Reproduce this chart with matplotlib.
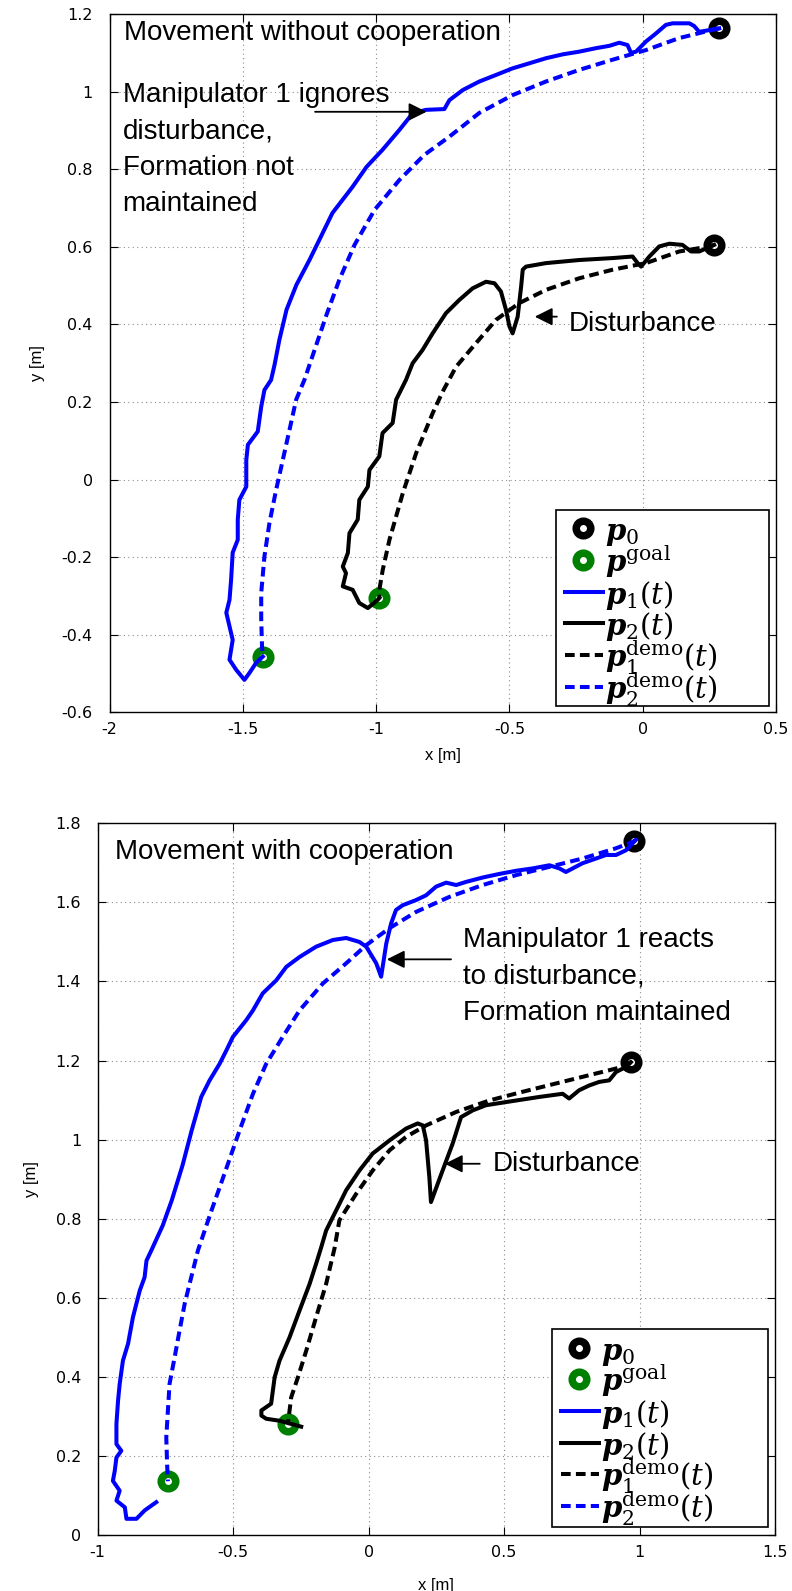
import matplotlib
matplotlib.use('Agg')
import matplotlib.pyplot as plt
from matplotlib.patches import Rectangle
from matplotlib.ticker import FuncFormatter
import numpy as np

plt.rcParams['font.family'] = ['Liberation Sans', 'DejaVu Sans']
plt.rcParams['axes.unicode_minus'] = False
plt.rcParams['mathtext.fontset'] = 'custom'
plt.rcParams['mathtext.bf'] = 'DejaVu Serif:italic:bold'
plt.rcParams['mathtext.it'] = 'DejaVu Serif:italic'
plt.rcParams['mathtext.rm'] = 'DejaVu Serif'

# ---- top panel: movement without cooperation ----
top_p1_x = [0.287, 0.212, 0.193, 0.175, 0.112, 0.087, 0.050, 0.012, -0.025, -0.044, -0.057, -0.088,
            -0.125, -0.175, -0.238, -0.300, -0.363, -0.425, -0.488, -0.550, -0.613, -0.675, -0.725,
            -0.744, -0.813, -0.863, -0.913, -0.976, -1.036, -1.089, -1.164, -1.213, -1.250, -1.299,
            -1.336, -1.363, -1.381, -1.394, -1.419, -1.431, -1.444, -1.481, -1.487, -1.487, -1.513,
            -1.519, -1.519, -1.538, -1.544, -1.550, -1.562, -1.538, -1.550, -1.525, -1.494, -1.475,
            -1.450, -1.425]
top_p1_y = [1.163, 1.154, 1.169, 1.176, 1.176, 1.172, 1.150, 1.129, 1.103, 1.100, 1.120, 1.126,
            1.118, 1.112, 1.103, 1.096, 1.086, 1.073, 1.060, 1.043, 1.026, 1.004, 0.978, 0.955,
            0.953, 0.944, 0.901, 0.850, 0.806, 0.754, 0.687, 0.618, 0.566, 0.502, 0.438, 0.360,
            0.296, 0.257, 0.231, 0.188, 0.124, 0.090, 0.051, -0.018, -0.052, -0.103, -0.155,
            -0.188, -0.258, -0.310, -0.343, -0.413, -0.464, -0.490, -0.516, -0.498, -0.472, -0.456]
top_p2demo_x = [0.287, 0.261, 0.137, 0.012, -0.114, -0.238, -0.363, -0.488, -0.613, -0.725, -0.819,
                -0.913, -1.006, -1.081, -1.138, -1.186, -1.231, -1.269, -1.300, -1.325, -1.350,
                -1.375, -1.400, -1.419, -1.431, -1.431, -1.428, -1.425]
top_p2demo_y = [1.163, 1.159, 1.138, 1.107, 1.082, 1.056, 1.026, 0.991, 0.945, 0.884, 0.837, 0.772,
                0.695, 0.605, 0.515, 0.425, 0.334, 0.257, 0.206, 0.128, 0.051, -0.026, -0.111,
                -0.198, -0.292, -0.361, -0.430, -0.456]
top_p2_x = [0.268, 0.212, 0.181, 0.149, 0.100, 0.062, 0.025, -0.006, -0.019, -0.038, -0.113, -0.238,
            -0.363, -0.438, -0.450, -0.456, -0.469, -0.488, -0.500, -0.513, -0.532, -0.556, -0.588,
            -0.638, -0.688, -0.738, -0.788, -0.826, -0.863, -0.888, -0.925, -0.938, -0.976, -0.988,
            -1.025, -1.031, -1.063, -1.069, -1.100, -1.106, -1.125, -1.113, -1.125, -1.088, -1.063,
            -1.031, -0.994, -0.988]
top_p2_y = [0.605, 0.588, 0.588, 0.605, 0.608, 0.601, 0.575, 0.549, 0.558, 0.575, 0.571, 0.566,
            0.558, 0.549, 0.541, 0.498, 0.420, 0.377, 0.395, 0.438, 0.485, 0.506, 0.510, 0.493,
            0.463, 0.429, 0.377, 0.334, 0.300, 0.257, 0.206, 0.146, 0.120, 0.060, 0.025, -0.018,
            -0.052, -0.103, -0.138, -0.189, -0.224, -0.241, -0.275, -0.284, -0.318, -0.331,
            -0.310, -0.305]
top_p1demo_x = [0.268, 0.250, 0.137, 0.012, -0.113, -0.238, -0.363, -0.463, -0.550, -0.625, -0.700,
                -0.751, -0.788, -0.850, -0.900, -0.950, -0.975, -0.988, -0.988]
top_p1demo_y = [0.605, 0.601, 0.588, 0.558, 0.541, 0.519, 0.489, 0.455, 0.412, 0.352, 0.291, 0.226,
                0.171, 0.068, -0.035, -0.155, -0.232, -0.284, -0.305]
top_start_x = [0.287, 0.268]
top_start_y = [1.163, 0.605]
top_goal_x = [-1.425, -0.988]
top_goal_y = [-0.456, -0.305]

# ---- bottom panel: movement with cooperation ----
bot_p1_x = [0.986, 0.950, 0.913, 0.876, 0.839, 0.789, 0.728, 0.704, 0.667, 0.605, 0.544, 0.482,
            0.421, 0.360, 0.323, 0.286, 0.249, 0.212, 0.175, 0.126, 0.101, 0.083, 0.065, 0.046,
            0.028, -0.009, -0.034, -0.083, -0.132, -0.194, -0.255, -0.304, -0.341, -0.391, -0.427,
            -0.452, -0.501, -0.525, -0.550, -0.587, -0.618, -0.653, -0.687, -0.727, -0.760, -0.802,
            -0.820, -0.827, -0.845, -0.870, -0.888, -0.907, -0.919, -0.925, -0.931, -0.931, -0.913,
            -0.931, -0.937, -0.944, -0.919, -0.931, -0.900, -0.894, -0.857, -0.827, -0.784]
bot_p1_y = [1.758, 1.732, 1.720, 1.720, 1.711, 1.699, 1.677, 1.686, 1.694, 1.686, 1.680, 1.672,
            1.663, 1.652, 1.644, 1.650, 1.640, 1.618, 1.606, 1.593, 1.581, 1.547, 1.496, 1.412,
            1.446, 1.488, 1.500, 1.510, 1.505, 1.488, 1.462, 1.437, 1.403, 1.370, 1.327, 1.302,
            1.260, 1.226, 1.192, 1.150, 1.108, 1.024, 0.935, 0.846, 0.783, 0.720, 0.694, 0.652,
            0.618, 0.551, 0.484, 0.441, 0.382, 0.340, 0.281, 0.230, 0.213, 0.196, 0.163, 0.137,
            0.112, 0.087, 0.070, 0.041, 0.041, 0.062, 0.083]
bot_p2demo_x = [0.986, 0.974, 0.913, 0.789, 0.667, 0.544, 0.421, 0.298, 0.175, 0.077, -0.009,
                -0.083, -0.169, -0.255, -0.317, -0.378, -0.427, -0.476, -0.528, -0.580, -0.630,
                -0.661, -0.679, -0.698, -0.716, -0.735, -0.741, -0.747, -0.744, -0.741]
bot_p2demo_y = [1.758, 1.753, 1.737, 1.711, 1.690, 1.669, 1.644, 1.614, 1.576, 1.535, 1.492, 1.446,
                1.395, 1.327, 1.260, 1.192, 1.116, 1.024, 0.922, 0.821, 0.720, 0.635, 0.585, 0.517,
                0.450, 0.382, 0.315, 0.247, 0.180, 0.136]
bot_p2_x = [0.968, 0.950, 0.913, 0.888, 0.851, 0.814, 0.777, 0.740, 0.716, 0.630, 0.507, 0.433,
            0.384, 0.341, 0.310, 0.273, 0.230, 0.224, 0.212, 0.200, 0.181, 0.138, 0.077, 0.015,
            -0.034, -0.083, -0.120, -0.157, -0.175, -0.194, -0.218, -0.255, -0.292, -0.329, -0.347,
            -0.360, -0.396, -0.396, -0.378, -0.329, -0.249]
bot_p2_y = [1.196, 1.184, 1.171, 1.150, 1.146, 1.137, 1.125, 1.104, 1.116, 1.108, 1.095, 1.087,
            1.074, 1.057, 0.990, 0.922, 0.842, 0.905, 0.998, 1.036, 1.041, 1.028, 0.998, 0.965,
            0.922, 0.872, 0.821, 0.770, 0.728, 0.686, 0.635, 0.568, 0.500, 0.441, 0.399, 0.332,
            0.315, 0.302, 0.294, 0.289, 0.274]
bot_p1demo_x = [0.968, 0.937, 0.814, 0.691, 0.568, 0.445, 0.323, 0.212, 0.138, 0.077, 0.015, -0.046,
                -0.108, -0.126, -0.157, -0.194, -0.230, -0.261, -0.286, -0.295, -0.298]
bot_p1demo_y = [1.196, 1.184, 1.163, 1.142, 1.121, 1.099, 1.070, 1.036, 1.007, 0.973, 0.922, 0.863,
                0.796, 0.725, 0.635, 0.551, 0.467, 0.399, 0.348, 0.298, 0.281]
bot_start_x = [0.980, 0.968]
bot_start_y = [1.755, 1.196]
bot_goal_x = [-0.741, -0.298]
bot_goal_y = [0.136, 0.281]

top_xticks = [-2, -1.5, -1, -0.5, 0, 0.5]
top_yticks = [-0.6, -0.4, -0.2, 0, 0.2, 0.4, 0.6, 0.8, 1, 1.2]
bot_xticks = [-1, -0.5, 0, 0.5, 1, 1.5]
bot_yticks = [0, 0.2, 0.4, 0.6, 0.8, 1, 1.2, 1.4, 1.6, 1.8]

legend_labels = [r'$\mathbf{p}_0$', r'$\mathbf{p}^{\mathrm{goal}}$', r'$\mathbf{p}_1(t)$',
                 r'$\mathbf{p}_2(t)$', r'$\mathbf{p}_1^{\mathrm{demo}}(t)$',
                 r'$\mathbf{p}_2^{\mathrm{demo}}(t)$']

green = (0, 0.5, 0)
ring = dict(marker='o', markersize=10.5, markeredgewidth=5.4, markerfacecolor='white', linestyle='none')
dash = (0, (2.4, 1.3))
legend_styles = [
    dict(markeredgecolor='k', **ring),
    dict(markeredgecolor=green, **ring),
    dict(color='b', lw=2.9),
    dict(color='k', lw=2.9),
    dict(color='k', lw=2.9, linestyle=dash),
    dict(color='b', lw=2.9, linestyle=dash),
]

FIG_W, FIG_H = 792, 1591


def draw(ax, d):
    ax.plot(d['sx'], d['sy'], markeredgecolor='k', zorder=2, **ring)
    ax.plot(d['gx'], d['gy'], markeredgecolor=green, zorder=2, **ring)
    ax.plot(d['p1x'], d['p1y'], color='b', lw=2.9, zorder=3)
    ax.plot(d['p2x'], d['p2y'], color='k', lw=2.9, zorder=3)
    ax.plot(d['d1x'], d['d1y'], color='k', lw=2.9, linestyle=dash, zorder=3)
    ax.plot(d['d2x'], d['d2y'], color='b', lw=2.9, linestyle=dash, zorder=3)

    ax.set_xticks(d['xt'])
    ax.set_yticks(d['yt'])
    ax.set_xlim(d['xt'][0], d['xt'][-1])
    ax.set_ylim(d['yt'][0], d['yt'][-1])
    fmt = FuncFormatter(lambda v, p: '%g' % round(v, 2))
    ax.xaxis.set_major_formatter(fmt)
    ax.yaxis.set_major_formatter(fmt)
    ax.tick_params(direction='in', length=6, width=0.8, top=True, right=True, labelsize=11.5)
    for lab in ax.get_xticklabels() + ax.get_yticklabels():
        lab.set_family('DejaVu Sans')
    ax.tick_params(axis='y', pad=12)
    ax.tick_params(axis='x', pad=7)
    ax.grid(True, color='0.55', linestyle=(0, (1, 3)), linewidth=0.8)
    for s in ax.spines.values():
        s.set_linewidth(1.0)
    ax.set_xlabel('x [m]', fontsize=12, labelpad=d['xlpad'])
    ax.set_ylabel('y [m]', fontsize=12, labelpad=12)

    # legend: framed box with evenly spaced rows
    pos = ax.get_position()
    W, H = pos.width * FIG_W, pos.height * FIG_H
    x0, y0, x1, y1 = d['box']
    ax.add_patch(Rectangle((x0, y0), x1 - x0, y1 - y0, transform=ax.transAxes,
                           facecolor='white', edgecolor='k', lw=1.2, zorder=4.5))
    for i, (lab, st) in enumerate(zip(legend_labels, legend_styles)):
        yc = y1 - (18.5 + 31.7 * i) / H
        if 'marker' in st:
            ax.plot([x0 + 27 / W], [yc], transform=ax.transAxes, zorder=6, clip_on=False, **st)
        else:
            ax.plot([x0 + 9 / W, x0 + 47 / W], [yc, yc], transform=ax.transAxes, zorder=6,
                    clip_on=False, **st)
        ax.text(x0 + 49 / W, yc - 12 / H, lab, transform=ax.transAxes, fontsize=21,
                va='baseline', ha='left', zorder=6)


fig = plt.figure(figsize=(FIG_W / 100, FIG_H / 100), dpi=100)
ax1 = fig.add_axes([0.1383, 0.5522, 0.8415, 0.4390])
ax2 = fig.add_axes([0.1234, 0.0352, 0.8552, 0.4473])

draw(ax1, dict(sx=top_start_x, sy=top_start_y, gx=top_goal_x, gy=top_goal_y,
               p1x=top_p1_x, p1y=top_p1_y, p2x=top_p2_x, p2y=top_p2_y,
               d1x=top_p1demo_x, d1y=top_p1demo_y, d2x=top_p2demo_x, d2y=top_p2demo_y,
               xt=top_xticks, yt=top_yticks, xlpad=8,
               box=(0.670, 0.0093, 0.9895, 0.290)))
draw(ax2, dict(sx=bot_start_x, sy=bot_start_y, gx=bot_goal_x, gy=bot_goal_y,
               p1x=bot_p1_x, p1y=bot_p1_y, p2x=bot_p2_x, p2y=bot_p2_y,
               d1x=bot_p1demo_x, d1y=bot_p1demo_y, d2x=bot_p2demo_x, d2y=bot_p2demo_y,
               xt=bot_xticks, yt=bot_yticks, xlpad=13,
               box=(0.6708, 0.0112, 0.9897, 0.2894)))

arrow = dict(arrowstyle='-|>,head_length=0.4,head_width=0.2', mutation_scale=27,
             color='k', lw=1.3, shrinkA=0, shrinkB=0)
fs = 20

ax1.text(-1.944, 1.151, 'Movement without cooperation', fontsize=fs, va='center', ha='left')
ax1.text(-1.951, 0.850, 'Manipulator 1 ignores\ndisturbance,\nFormation not\nmaintained',
         fontsize=fs, va='center', ha='left', linespacing=1.52)
ax1.annotate('', xy=(-0.811, 0.948), xytext=(-1.229, 0.948), arrowprops=arrow)
ax1.text(-0.277, 0.401, 'Disturbance', fontsize=fs, va='center', ha='left')
ax1.annotate('', xy=(-0.405, 0.420), xytext=(-0.322, 0.420), arrowprops=arrow)

ax2.text(-0.937, 1.728, 'Movement with cooperation', fontsize=fs, va='center', ha='left')
ax2.text(0.347, 1.412, 'Manipulator 1 reacts\nto disturbance,\nFormation maintained',
         fontsize=fs, va='center', ha='left', linespacing=1.52)
ax2.annotate('', xy=(0.067, 1.456), xytext=(0.304, 1.456), arrowprops=arrow)
ax2.text(0.458, 0.939, 'Disturbance', fontsize=fs, va='center', ha='left')
ax2.annotate('', xy=(0.281, 0.939), xytext=(0.410, 0.939), arrowprops=arrow)

fig.savefig('out.png', dpi=100)
